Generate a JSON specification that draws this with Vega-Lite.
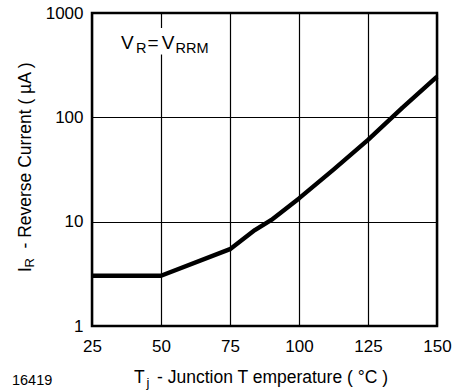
{
  "$schema": "https://vega.github.io/schema/vega-lite/v6.json",
  "autosize": "none",
  "padding": {"left": 92, "top": 13, "right": 15, "bottom": 64},
  "width": 345,
  "height": 313,
  "background": "white",
  "config": {
    "view": {"stroke": "black", "strokeWidth": 2.5},
    "font": "Liberation Sans",
    "axis": {
      "grid": true, "gridColor": "black", "gridOpacity": 1, "gridWidth": 1.2,
      "ticks": false, "domain": false,
      "labelFont": "Liberation Sans", "labelFontSize": 17, "labelColor": "black",
      "labelFlush": false, "title": null
    }
  },
  "layer": [
    {
      "data": {"values": [
        {"x": 25, "y": 3.03}, {"x": 50, "y": 3.03}, {"x": 75, "y": 5.45},
        {"x": 84, "y": 8.3}, {"x": 90, "y": 10.4}, {"x": 100, "y": 16.7},
        {"x": 112.5, "y": 31.5}, {"x": 125, "y": 60.7}, {"x": 137.5, "y": 124},
        {"x": 150, "y": 245}
      ]},
      "mark": {"type": "line", "color": "black", "strokeWidth": 4.4, "strokeJoin": "round"},
      "encoding": {
        "x": {"field": "x", "type": "quantitative",
              "scale": {"domain": [25, 150], "nice": false, "zero": false},
              "axis": {"values": [25, 50, 75, 100, 125, 150], "labelPadding": 12}},
        "y": {"field": "y", "type": "quantitative",
              "scale": {"type": "log", "domain": [1, 1000], "nice": false},
              "axis": {"values": [1, 10, 100, 1000], "format": "d", "labelPadding": 9}}
      }
    },
    {
      "data": {"values": [{"x": 49.3, "x2": 50.7, "y": 400, "y2": 718}]},
      "mark": {"type": "rect", "color": "white"},
      "encoding": {
        "x": {"field": "x", "type": "quantitative"}, "x2": {"field": "x2"},
        "y": {"field": "y", "type": "quantitative"}, "y2": {"field": "y2"}
      }
    },
    {
      "data": {"values": [
        {"x": 35.5, "y": 452, "t": "V"},
        {"x": 45.1, "y": 452, "t": "="},
        {"x": 50.3, "y": 452, "t": "V"}
      ]},
      "mark": {"type": "text", "fontSize": 19, "align": "left", "baseline": "alphabetic", "color": "black"},
      "encoding": {
        "x": {"field": "x", "type": "quantitative"},
        "y": {"field": "y", "type": "quantitative"},
        "text": {"field": "t"}
      }
    },
    {
      "data": {"values": [
        {"x": 40.2, "y": 0.284, "t": "T"},
        {"x": 48.55, "y": 0.284, "t": "- Junction T emperature ( °C )"}
      ]},
      "mark": {"type": "text", "fontSize": 17.5, "align": "left", "baseline": "alphabetic", "color": "black"},
      "encoding": {
        "x": {"field": "x", "type": "quantitative"},
        "y": {"field": "y", "type": "quantitative"},
        "text": {"field": "t"}
      }
    },
    {
      "data": {"values": [
        {"x": 40.9, "y": 414, "t": "R"},
        {"x": 55.25, "y": 414, "t": "RRM"}
      ]},
      "mark": {"type": "text", "fontSize": 14.5, "align": "left", "baseline": "alphabetic", "color": "black"},
      "encoding": {
        "x": {"field": "x", "type": "quantitative"},
        "y": {"field": "y", "type": "quantitative"},
        "text": {"field": "t"}
      }
    },
    {
      "data": {"values": [{"x": 44.75, "y": 0.26, "t": "j"}]},
      "mark": {"type": "text", "fontSize": 13, "align": "left", "baseline": "alphabetic", "color": "black"},
      "encoding": {
        "x": {"field": "x", "type": "quantitative"},
        "y": {"field": "y", "type": "quantitative"},
        "text": {"field": "t"}
      }
    },
    {
      "data": {"values": [
        {"x": 2.9, "y": 3.29, "t": "I"},
        {"x": 2.9, "y": 5.53, "t": "- Reverse Current ( µA )"}
      ]},
      "mark": {"type": "text", "fontSize": 17.5, "angle": 270, "align": "left", "baseline": "alphabetic", "color": "black"},
      "encoding": {
        "x": {"field": "x", "type": "quantitative"},
        "y": {"field": "y", "type": "quantitative"},
        "text": {"field": "t"}
      }
    },
    {
      "data": {"values": [{"x": 4.0, "y": 3.64, "t": "R"}]},
      "mark": {"type": "text", "fontSize": 13, "angle": 270, "align": "left", "baseline": "alphabetic", "color": "black"},
      "encoding": {
        "x": {"field": "x", "type": "quantitative"},
        "y": {"field": "y", "type": "quantitative"},
        "text": {"field": "t"}
      }
    },
    {
      "data": {"values": [{"x": -4.0, "y": 0.272, "t": "16419"}]},
      "mark": {"type": "text", "fontSize": 14.5, "align": "left", "baseline": "alphabetic", "color": "black"},
      "encoding": {
        "x": {"field": "x", "type": "quantitative"},
        "y": {"field": "y", "type": "quantitative"},
        "text": {"field": "t"}
      }
    }
  ]
}
